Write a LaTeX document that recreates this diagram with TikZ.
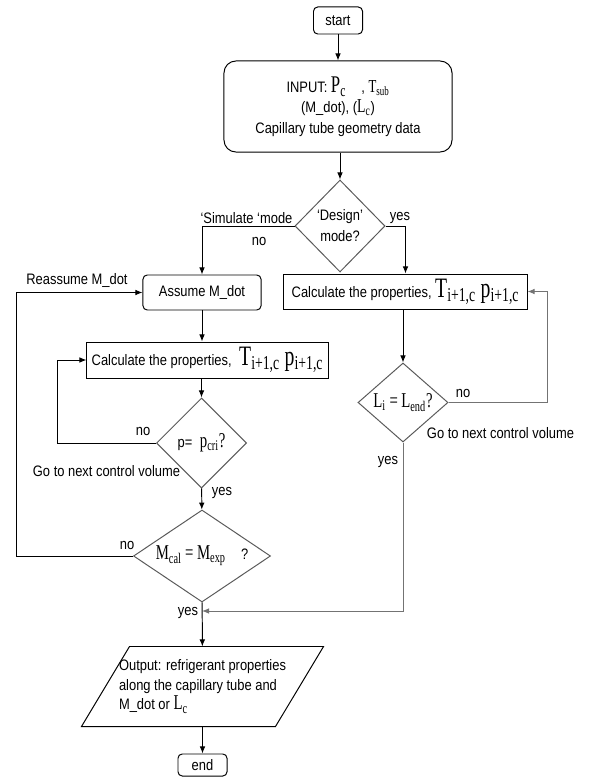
\documentclass[tikz,border=0pt]{standalone}
\usepackage{fontspec}
\setmainfont{Liberation Sans}[FakeStretch=0.85]
\newfontfamily\tms{Liberation Serif}[FakeStretch=0.7]
\usetikzlibrary{shapes.geometric,arrows.meta}
\newcommand\srf[2]{{\tms\fontsize{#1}{#1}\selectfont #2}}
\tikzset{
  flow/.style={-{Latex[length=5pt,width=4pt]}},
  backline/.style={draw=black!55},
  rbox/.style={draw, rounded corners=3pt, align=center, inner sep=0pt},
  sbox/.style={draw, align=center, inner sep=0pt},
  ask/.style={draw=black!65, diamond, inner sep=0pt, align=center},
  lbl/.style={inner sep=0pt},
}
\begin{document}
\begin{tikzpicture}[x=0.025cm, y=-0.025cm, line width=0.7pt, font=\fontsize{10.8}{13}\selectfont]
\useasboundingbox (0,0) rectangle (590,780);

\node[rbox, minimum width=1.225cm, minimum height=0.675cm] (start) at (338,20.5) {start};
\node[rbox, rounded corners=8.5pt, minimum width=5.7cm, minimum height=2.275cm, font=\fontsize{10.8}{14.5}\selectfont] (input) at (338,106.5)
  {INPUT: \srf{17}{P\textsubscript{c}}\quad, \srf{13}{T\textsubscript{sub}}\\(M\_dot), (\srf{14}{L\textsubscript{c}})\\Capillary tube geometry data};
\node[ask, minimum width=2.25cm, minimum height=2.3cm, font=\fontsize{10.8}{15}\selectfont] (design) at (340,226) {‘Design’\\mode?};
\node[rbox, minimum width=2.95cm, minimum height=0.875cm] (assume) at (202,292.5) {Assume M\_dot};
\node[sbox, minimum width=6.075cm, minimum height=0.875cm] (rcalc) at (405.5,291.5)
  {Calculate the properties, \srf{20}{T\textsubscript{i+1,c}\,p\textsubscript{i+1,c}}};
\node[sbox, minimum width=6.025cm, minimum height=0.9cm] (lcalc) at (207.5,360)
  {Calculate the properties,\enspace\srf{20}{T\textsubscript{i+1,c}\,p\textsubscript{i+1,c}}};
\node[ask, minimum width=2.25cm, minimum height=2.25cm] (pcheck) at (201.5,443) {p=\enspace\srf{15}{p\textsubscript{cri}?}};
\node[ask, minimum width=2.25cm, minimum height=1.975cm] (lcheck) at (403,402.5) {\srf{15}{L\textsubscript{i}\,=\,L\textsubscript{end}?}};
\node[ask, shape aspect=1.5, minimum width=3.425cm, minimum height=2.3cm] (mcheck) at (202,556) {\srf{15}{M\textsubscript{cal}\,=\,M\textsubscript{exp}}\quad ?};
\node[minimum width=6.025cm, minimum height=1.975cm, inner sep=0pt, align=left, font=\fontsize{10.8}{13.9}\selectfont] (output) at (202.5,686.5)
  {Output: refrigerant properties\\along the capillary tube and\\M\_dot or \srf{15}{L\textsubscript{c}}};
\draw ([xshift=1.2cm]output.north west) -- (output.north east) -- ([xshift=-1.2cm]output.south east) -- (output.south west) -- cycle;
\node[rbox, minimum width=1.225cm, minimum height=0.55cm] (end) at (202.5,765) {end};

\coordinate (join) at (202,611);
\coordinate (lfar) at (16,0); \coordinate (lnear) at (57.5,0); \coordinate (rfar) at (547,0);

\draw[flow] (start) -- (input);
\draw[flow] (input.south -| design.north) -- (design.north);
\draw[flow] (design.west) -- (design.west -| assume.north) -- (assume.north);
\draw[flow] (design.east) -- (design.east -| rcalc.north) -- (rcalc.north);
\draw[flow] (assume.south) -- (assume.south |- lcalc.north);
\draw[flow] (pcheck.north |- lcalc.south) -- (pcheck.north);
\draw[flow] (pcheck.west) -- (pcheck.west -| lnear) -- (lnear |- lcalc.west) -- (lcalc.west);
\draw[flow] (pcheck) -- (mcheck);
\draw[flow] (mcheck.west) -- (mcheck.west -| lfar) -- (lfar |- assume.west) -- (assume.west);
\draw[flow] (lcheck.north |- rcalc.south) -- (lcheck.north);
\draw[flow, backline] (lcheck.east) -- (lcheck.east -| rfar) -- (rfar |- rcalc.east) -- (rcalc.east);
\draw[flow, backline] (lcheck.south) -- (lcheck.south |- join) -- (join);
\draw[flow] (mcheck) -- (output);
\draw[flow] (output) -- (end);

\node[lbl] (simtxt) at (246.5,218) {‘Simulate ‘mode};
\node[lbl] (dno) at (259,241) {no};
\node[lbl] (dyes) at (400,218) {yes};
\node[lbl] (reas) at (77,281) {Reassume M\_dot};
\node[lbl] (pno) at (143,431) {no};
\node[lbl] (pgo) at (106.5,470.7) {Go to next control volume};
\node[lbl] (pyes) at (222,493) {yes};
\node[lbl] (mno) at (127,545) {no};
\node[lbl] (myes) at (188,613) {yes};
\node[lbl] (lno) at (463,393) {no};
\node[lbl] (lgo) at (500.5,432.7) {Go to next control volume};
\node[lbl] (lyes) at (388,461.7) {yes};
\end{tikzpicture}
\end{document}
